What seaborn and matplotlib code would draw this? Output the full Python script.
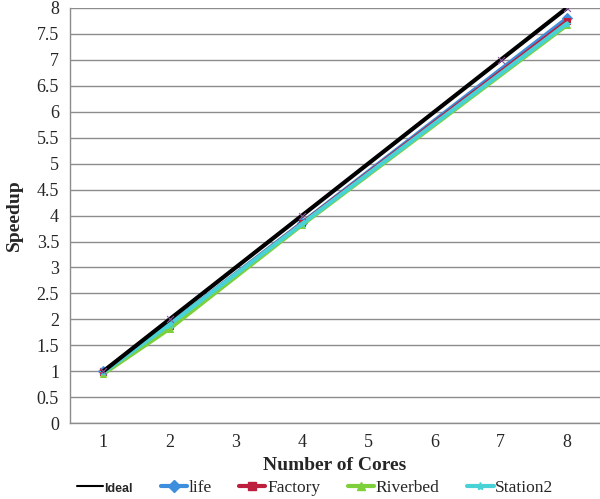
import numpy as np
import pandas as pd
import matplotlib
matplotlib.use('Agg')
import matplotlib.pyplot as plt
import seaborn as sns
from matplotlib.lines import Line2D

cores = [1, 2, 3, 4, 5, 6, 7, 8]
ideal = [1, 2, 3, 4, 5, 6, 7, 8]
measured_cores = [1, 2, 4, 8]
life = [1.0, 1.9, 3.86, 7.8]
factory = [0.98, 1.88, 3.85, 7.74]
riverbed = [0.95, 1.82, 3.82, 7.67]
station2 = [0.98, 1.9, 3.84, 7.7]
mark_cores = [1, 2, 4, 7, 8]

series = {
    'life': (life, '#3E8EDE', 'D'),
    'Factory': (factory, '#BE1E3E', 's'),
    'Riverbed': (riverbed, '#7ED03A', '^'),
    'Station2': (station2, '#48D2D6', '*'),
}

sns.set_style('white')
plt.rcParams['font.family'] = ['Liberation Serif', 'DejaVu Serif']

fig = plt.figure(figsize=(6.0, 4.99), dpi=100)
ax = fig.add_axes([0.117, 0.152, 0.883, 0.832])

for name, (vals, color, mk) in series.items():
    df = pd.DataFrame({'cores': measured_cores, 'speedup': vals})
    sns.lineplot(data=df, x='cores', y='speedup', color=color, linewidth=3,
                 marker=mk, markersize=5, markeredgecolor=color, ax=ax)

df_ideal = pd.DataFrame({'cores': cores, 'speedup': ideal})
sns.lineplot(data=df_ideal, x='cores', y='speedup', color='black', linewidth=3, ax=ax, zorder=3)
df_mark = pd.DataFrame({'cores': mark_cores, 'speedup': [ideal[c - 1] for c in mark_cores]})
sns.scatterplot(data=df_mark, x='cores', y='speedup', marker='x', color='#8A5A9E',
                s=25, linewidth=0.8, ax=ax, zorder=4)

ax.set_xlim(0.5, 8.5)
ax.set_ylim(0, 8)
ax.set_xticks(cores)
ax.set_xticklabels([str(c) for c in cores])
ax.set_yticks(np.arange(0, 8.01, 0.5))
ax.set_yticklabels(['0', '0.5', '1', '1.5', '2', '2.5', '3', '3.5', '4',
                    '4.5', '5', '5.5', '6', '6.5', '7', '7.5', '8'])
ax.tick_params(axis='both', labelsize=13, length=0, pad=8)
ax.yaxis.grid(True, color='#8C8C8C', linewidth=1)
ax.xaxis.grid(False)
for s in ['top', 'right']:
    ax.spines[s].set_visible(False)
for s in ['left', 'bottom']:
    ax.spines[s].set_color('#8C8C8C')
    ax.spines[s].set_linewidth(1)
ax.set_xlabel('Number of Cores', fontsize=14, fontweight='bold', labelpad=4)
ax.set_ylabel('Speedup', fontsize=14, fontweight='bold', labelpad=10)

handles = [Line2D([], [], color='black', linewidth=1.5)]
labels = ['Ideal']
for name, (vals, color, mk) in series.items():
    handles.append(Line2D([], [], color=color, linewidth=3, marker=mk, markersize=6))
    labels.append(name)
leg = fig.legend(handles, labels, loc='center', bbox_to_anchor=(0.525, 0.022), ncol=5,
                 frameon=False, fontsize=12.5, handlelength=1.5, handletextpad=0.1,
                 columnspacing=1.6, borderpad=0, borderaxespad=0)
t = leg.get_texts()[0]
t.set_family(['Liberation Sans', 'DejaVu Sans'])
t.set_fontweight('bold')
t.set_fontsize(9)

fig.savefig('out.png', dpi=100)
